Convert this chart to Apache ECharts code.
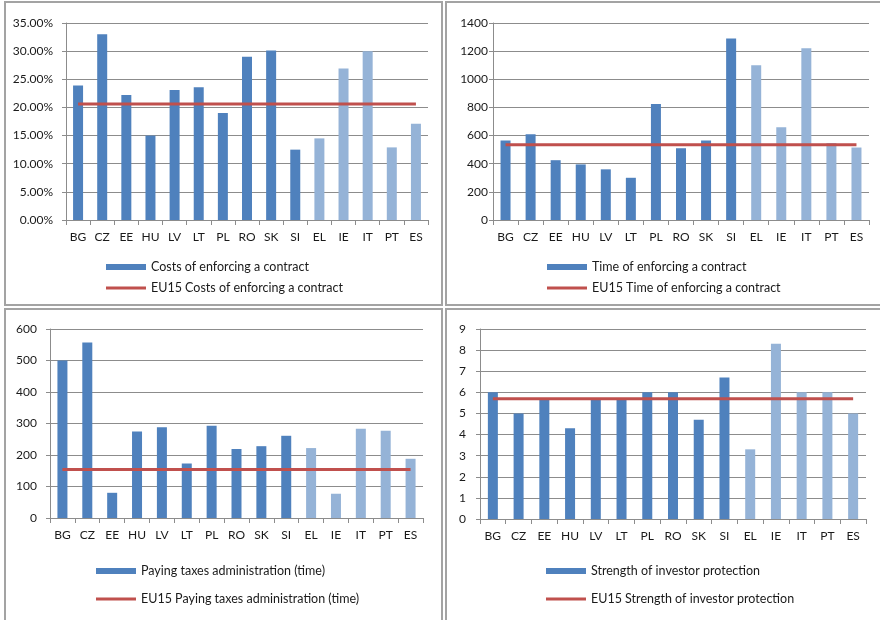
<!DOCTYPE html>
<html>
<head>
<meta charset="utf-8">
<script src="https://cdn.jsdelivr.net/npm/echarts@6/dist/echarts.min.js"></script>
<style>
  html, body { margin: 0; padding: 0; background: #fff; }
  #chart { width: 880px; height: 620px; }
</style>
</head>
<body>
<div id="chart"></div>
<script>
// Countries: new member states first, then the EU15 comparators (lighter bars)
const countries = ['BG', 'CZ', 'EE', 'HU', 'LV', 'LT', 'PL', 'RO', 'SK', 'SI', 'EL', 'IE', 'IT', 'PT', 'ES'];
const eu15Members = ['EL', 'IE', 'IT', 'PT', 'ES'];

// Costs of enforcing a contract (% of claim)
const costEnforcing = [23.9, 33.0, 22.2, 15.0, 23.1, 23.6, 19.0, 29.0, 30.1, 12.5, 14.5, 26.9, 30.0, 12.9, 17.1];
const eu15CostEnforcing = 20.6;

// Time of enforcing a contract (days)
const timeEnforcing = [565, 610, 425, 395, 360, 300, 825, 510, 565, 1290, 1100, 660, 1220, 547, 515];
const eu15TimeEnforcing = 535;

// Paying taxes administration (hours)
const taxTime = [500, 557, 80, 275, 288, 173, 293, 219, 228, 261, 222, 77, 283, 277, 188];
const eu15TaxTime = 154;

// Strength of investor protection (index 0-10)
const investorProtection = [6.0, 5.0, 5.7, 4.3, 5.7, 5.7, 6.0, 6.0, 4.7, 6.7, 3.3, 8.3, 6.0, 6.0, 5.0];
const eu15InvestorProtection = 5.7;

// Axis scales
const yScales = [
  { max: 35, interval: 5 },
  { max: 1400, interval: 200 },
  { max: 600, interval: 100 },
  { max: 9, interval: 1 }
];

const BLUE = '#4F81BD';
const LIGHT_BLUE = '#95B3D7';
const RED = '#C0504D';
const GRID_GRAY = '#8c8c8c';
const TEXT = '#1a1a1a';
const FONT = 'Lato, "Open Sans", sans-serif';

const panels = [
  { name: 'Costs of enforcing a contract', values: costEnforcing, ref: eu15CostEnforcing,
    grid: { left: 66, top: 23, width: 362, height: 197 }, legendX: 106, legendY: [267, 288],
    labelMargin: 13, fmt: v => v.toFixed(2) + '%' },
  { name: 'Time of enforcing a contract', values: timeEnforcing, ref: eu15TimeEnforcing,
    grid: { left: 493, top: 23, width: 376, height: 197 }, legendX: 547, legendY: [267, 288],
    labelMargin: 5, fmt: v => String(v) },
  { name: 'Paying taxes administration (time)', values: taxTime, ref: eu15TaxTime,
    grid: { left: 50, top: 329, width: 373, height: 189 }, legendX: 96, legendY: [571, 599],
    labelMargin: 13, fmt: v => String(v) },
  { name: 'Strength of investor protection', values: investorProtection, ref: eu15InvestorProtection,
    grid: { left: 480, top: 329, width: 386, height: 190 }, legendX: 546, legendY: [571, 599],
    labelMargin: 14, fmt: v => String(v) }
];

const grids = [], xAxes = [], yAxes = [], series = [], legends = [];
const ROW_H = 16;

panels.forEach((p, i) => {
  grids.push(Object.assign({ containLabel: false }, p.grid));

  xAxes.push({
    type: 'category',
    gridIndex: i,
    data: countries,
    boundaryGap: true,
    axisLine: { lineStyle: { color: GRID_GRAY, width: 1 } },
    axisTick: { show: true, length: 5, lineStyle: { color: GRID_GRAY } },
    axisLabel: { color: TEXT, fontFamily: FONT, fontSize: 12, margin: 11, interval: 0 }
  });

  yAxes.push({
    type: 'value',
    gridIndex: i,
    min: 0,
    max: yScales[i].max,
    interval: yScales[i].interval,
    axisLine: { show: true, lineStyle: { color: GRID_GRAY, width: 1 } },
    axisTick: { show: true, length: 4, lineStyle: { color: GRID_GRAY } },
    splitLine: { show: true, lineStyle: { color: GRID_GRAY, width: 1.2 } },
    axisLabel: { color: TEXT, fontFamily: FONT, fontSize: 12, margin: p.labelMargin, formatter: p.fmt }
  });

  const barName = p.name;
  const lineName = 'EU15 ' + p.name;

  series.push({
    name: barName,
    type: 'bar',
    xAxisIndex: i,
    yAxisIndex: i,
    barWidth: 10,
    itemStyle: { color: BLUE },
    data: p.values.map((v, k) => ({
      value: v,
      itemStyle: { color: eu15Members.includes(countries[k]) ? LIGHT_BLUE : BLUE }
    })),
    z: 2
  });

  series.push({
    name: lineName,
    type: 'line',
    xAxisIndex: i,
    yAxisIndex: i,
    symbol: 'none',
    lineStyle: { color: RED, width: 3 },
    itemStyle: { color: RED },
    data: countries.map(() => p.ref),
    z: 3
  });

  const legendText = { color: TEXT, fontFamily: FONT, fontSize: 12.5, lineHeight: ROW_H };

  // bar key
  legends.push({
    orient: 'vertical',
    left: p.legendX,
    top: p.legendY[0] - ROW_H / 2,
    padding: 0,
    itemWidth: 40,
    itemHeight: 6,
    itemGap: 5,
    textStyle: legendText,
    data: [{ name: barName, icon: 'rect' }]
  });

  // reference line key
  legends.push({
    orient: 'vertical',
    left: p.legendX,
    top: p.legendY[1] - ROW_H / 2,
    padding: 0,
    itemWidth: 40,
    itemHeight: 3,
    itemGap: 5,
    textStyle: legendText,
    data: [{ name: lineName, icon: 'rect' }]
  });
});

// Frames around the four panels
const frame = (x, y, w, h) => ({
  type: 'rect',
  shape: { x, y, width: w, height: h },
  style: { fill: 'none', stroke: '#a3a3a3', lineWidth: 2 },
  silent: true
});

const chart = echarts.init(document.getElementById('chart'), null, { renderer: 'canvas' });
chart.setOption({
  animation: false,
  backgroundColor: '#ffffff',
  grid: grids,
  xAxis: xAxes,
  yAxis: yAxes,
  legend: legends,
  series: series,
  graphic: [
    frame(5, 2, 437, 303),
    frame(446, 2, 440, 303),
    frame(5, 309, 437, 320),
    frame(446, 309, 440, 320)
  ]
});
</script>
</body>
</html>
